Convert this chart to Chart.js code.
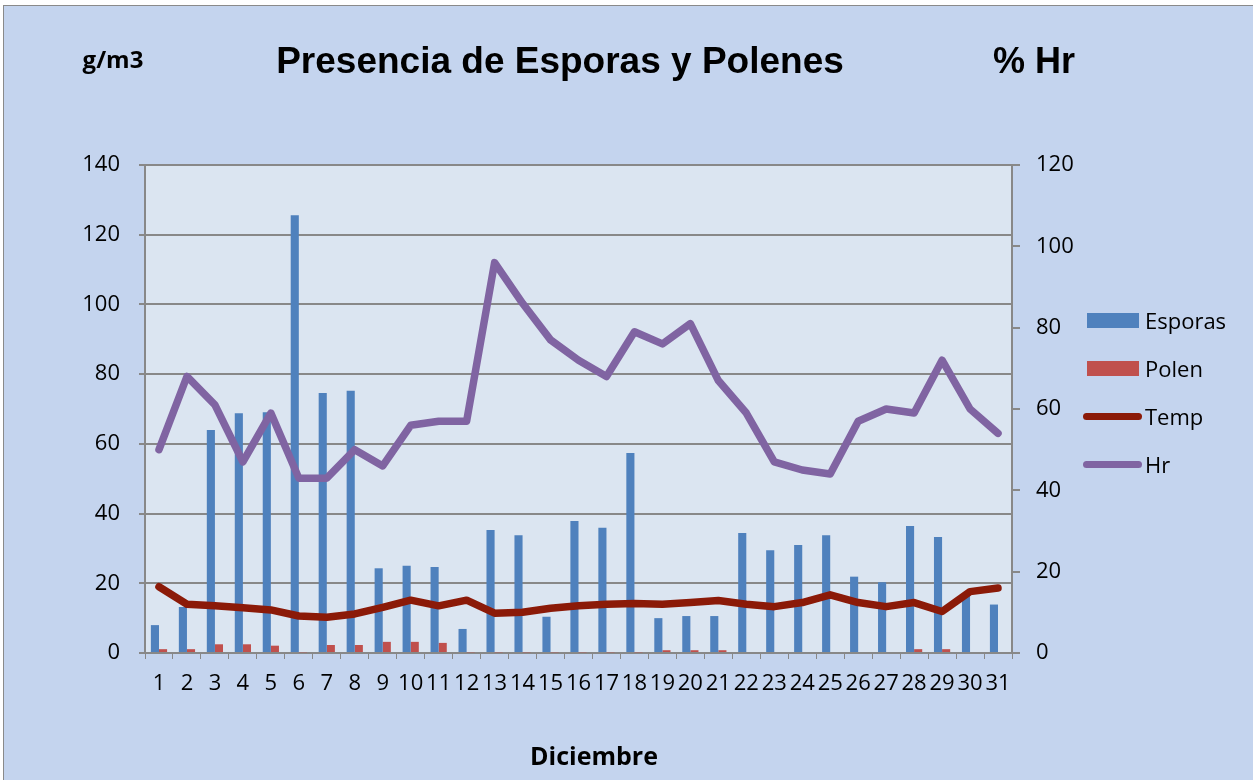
<!DOCTYPE html>
<html>
<head>
<meta charset="utf-8">
<script src="https://cdn.jsdelivr.net/npm/chart.js"></script>
<style>
    html, body { margin: 0; padding: 0; background: #fff; }
    body { width: 1253px; height: 780px; position: relative; overflow: hidden; }
    #frame {
        position: absolute; left: 3px; top: 5px; width: 1260px; height: 780px;
        background: #c4d4ee; border: 1px solid #8a8a8a;
    }
    #chart { position: absolute; left: 0; top: 0; }
    .lbl { position: absolute; color: #000; font-weight: bold; white-space: nowrap; }
    #title { left: 560px; top: 61px; transform: translate(-50%, -50%); font: bold 37px "Liberation Sans", Arial, sans-serif; }
    #yleft { left: 113px; top: 58px; transform: translate(-50%, -50%); font: bold 24px "Open Sans", sans-serif; }
    #yright { left: 1034px; top: 61px; transform: translate(-50%, -50%); font: bold 36px "Liberation Sans", Arial, sans-serif; }
    #xtitle { left: 594px; top: 755px; transform: translate(-50%, -50%); font: bold 25px "Open Sans", sans-serif; }
    .leg { position: absolute; left: 1083px; height: 30px; font: 22px "Open Sans", sans-serif; }
    .leg .sw { position: absolute; left: 4px; top: 7px; width: 52px; height: 15px; }
    .leg .ln { position: absolute; left: 0; top: 11px; width: 59px; height: 7px; border-radius: 4px; }
    .leg span { position: absolute; left: 62px; top: -1px; white-space: nowrap; }
</style>
</head>
<body>
<div id="frame"></div>
<canvas id="chart" width="1253" height="780"></canvas>
<div class="lbl" id="title">Presencia de Esporas y Polenes</div>
<div class="lbl" id="yleft">g/m3</div>
<div class="lbl" id="yright">% Hr</div>
<div class="lbl" id="xtitle">Diciembre</div>
<div id="legend"></div>
<script>
const days = ['1','2','3','4','5','6','7','8','9','10','11','12','13','14','15','16',
    '17','18','19','20','21','22','23','24','25','26','27','28','29','30','31'];

// g/m3 (left axis)
const esporas = [8, 13.2, 64, 68.8, 69.1, 125.6, 74.6, 75.2, 24.3, 25, 24.7, 6.9, 35.3, 33.8, 10.4, 37.9,
    35.9, 57.4, 10, 10.6, 10.6, 34.4, 29.5, 31, 33.8, 21.9, 20.3, 36.4, 33.3, 16.5, 13.9];
const polen = [1.1, 1.1, 2.5, 2.5, 2.1, 0.2, 2.3, 2.3, 3.2, 3.2, 2.9, 0.2, 0.2, 0.2, 0.2, 0.2,
    0.2, 0.2, 0.8, 0.8, 0.8, 0, 0, 0, 0, 0, 0, 1.1, 1.1, 0, 0];

// right axis
const temp = [16.3, 12.0, 11.6, 11.1, 10.6, 9.1, 8.8, 9.6, 11.2, 13.0, 11.6, 13.0, 9.8, 10.0, 11.0, 11.6,
    12.0, 12.2, 12.0, 12.4, 12.9, 12.0, 11.4, 12.4, 14.3, 12.4, 11.4, 12.4, 10.2, 15.1, 16.0];
const hr = [50, 68, 61, 47, 59, 43, 43, 50, 46, 56, 57, 57, 96, 86, 77, 72,
    68, 79, 76, 81, 67, 59, 47, 45, 44, 57, 60, 59, 72, 60, 54];

const leftTicks = { min: 0, max: 140, step: 20 };
const rightTicks = { min: 0, max: 120, step: 20 };

const colors = { esporas: '#4f81bd', polen: '#c0504d', temp: '#8b1a08', hr: '#8064a2' };
const axisGray = '#888888';

Chart.defaults.font.family = '"Open Sans", sans-serif';
Chart.defaults.color = '#000';

// plot area fill
const plotBg = {
    id: 'plotBg',
    beforeDraw(chart) {
        const a = chart.chartArea;
        const ctx = chart.ctx;
        ctx.save();
        ctx.fillStyle = '#dbe5f1';
        ctx.fillRect(a.left, a.top, a.right - a.left, a.bottom - a.top);
        ctx.restore();
    }
};

new Chart(document.getElementById('chart'), {
    data: {
        labels: days,
        datasets: [
            { type: 'bar', label: 'Esporas', data: esporas, backgroundColor: colors.esporas, yAxisID: 'y',
              categoryPercentage: 0.58, barPercentage: 1, order: 3 },
            { type: 'bar', label: 'Polen', data: polen, backgroundColor: colors.polen, yAxisID: 'y',
              categoryPercentage: 0.58, barPercentage: 1, order: 3 },
            { type: 'line', label: 'Temp', data: temp, borderColor: colors.temp, borderWidth: 7.5,
              pointRadius: 0, borderJoinStyle: 'round', borderCapStyle: 'round', yAxisID: 'y1', order: 1 },
            { type: 'line', label: 'Hr', data: hr, borderColor: colors.hr, borderWidth: 7.5,
              pointRadius: 0, borderJoinStyle: 'round', borderCapStyle: 'round', yAxisID: 'y1', order: 0 }
        ]
    },
    options: {
        responsive: false,
        animation: false,
        layout: { padding: { top: 165, left: 0, right: 0, bottom: 0 } },
        plugins: { legend: { display: false }, tooltip: { enabled: false }, title: { display: false } },
        scales: {
            x: {
                grid: { offset: true, drawOnChartArea: false, tickLength: 6, color: axisGray },
                border: { color: axisGray, width: 2 },
                ticks: { font: { size: 22 }, padding: 12, maxRotation: 0, autoSkip: false },
                afterFit(s) { s.height = 127; }
            },
            y: {
                position: 'left',
                min: leftTicks.min, max: leftTicks.max,
                ticks: { stepSize: leftTicks.step, font: { size: 22 }, padding: 19 },
                grid: { color: axisGray, lineWidth: 2, tickLength: 6 },
                border: { color: axisGray, width: 2 },
                afterFit(s) { s.width = 145; }
            },
            y1: {
                position: 'right',
                min: rightTicks.min, max: rightTicks.max,
                ticks: { stepSize: rightTicks.step, font: { size: 22 }, padding: 16 },
                grid: { drawOnChartArea: false, color: axisGray, lineWidth: 2, tickLength: 8 },
                border: { color: axisGray, width: 2 },
                afterFit(s) { s.width = 241; }
            }
        }
    },
    plugins: [plotBg]
});

// legend
const legendItems = [
    { name: 'Esporas', color: colors.esporas, kind: 'sw' },
    { name: 'Polen', color: colors.polen, kind: 'sw' },
    { name: 'Temp', color: colors.temp, kind: 'ln' },
    { name: 'Hr', color: colors.hr, kind: 'ln' }
];
const legendDiv = document.getElementById('legend');
legendItems.forEach((it, i) => {
    const row = document.createElement('div');
    row.className = 'leg';
    row.style.top = (306 + i * 48) + 'px';
    row.innerHTML = `<div class="${it.kind}" style="background:${it.color}"></div><span>${it.name}</span>`;
    legendDiv.appendChild(row);
});
</script>
</body>
</html>
